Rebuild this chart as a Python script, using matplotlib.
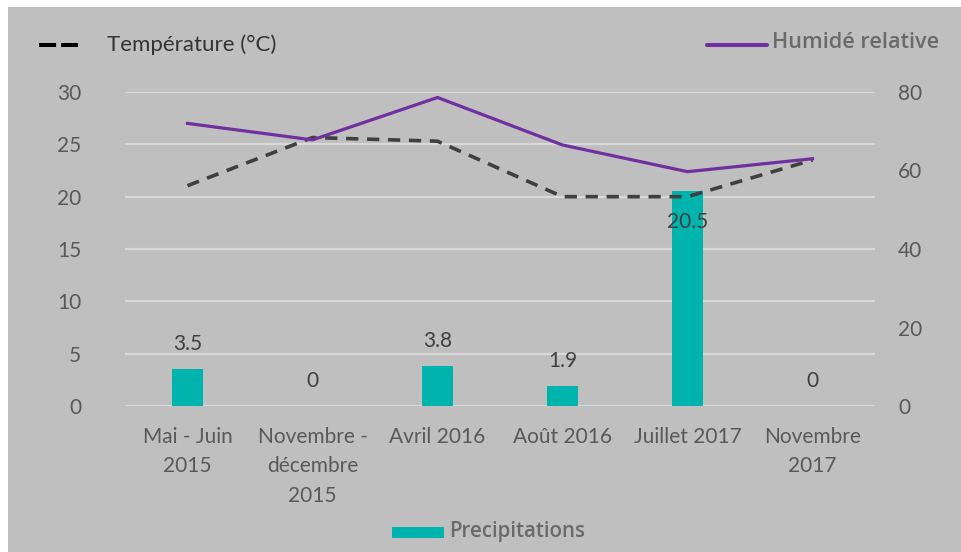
import matplotlib
matplotlib.use("Agg")
import matplotlib.pyplot as plt
from matplotlib.patches import Rectangle
from matplotlib.lines import Line2D

categories = ["Mai - Juin\n2015", "Novembre -\ndécembre\n2015", "Avril 2016",
              "Août 2016", "Juillet 2017", "Novembre\n2017"]
precipitations = [3.5, 0, 3.8, 1.9, 20.5, 0]
temperature = [21.05, 25.65, 25.3, 20.0, 20.0, 23.5]
humidite = [72.0, 67.8, 78.6, 66.5, 59.7, 63.0]
left_ticks = [0, 5, 10, 15, 20, 25, 30]
right_ticks = [0, 20, 40, 60, 80]

W, H = 961, 552
BG = "#bfbfbf"
GRID = "#d9d9d9"
TXT = "#595959"
TEAL = "#00b4ae"
PURPLE = "#7030a0"
DASH = "#404040"
FONT = ["Lato", "DejaVu Sans"]
LEG = ["Open Sans", "DejaVu Sans"]

plt.rcParams["font.family"] = FONT

fig = plt.figure(figsize=(W / 100, H / 100), dpi=100, facecolor="white")
bg = Rectangle((8 / W, 0), 1 - 8 / W, 1 - 7 / H, transform=fig.transFigure,
               facecolor=BG, edgecolor="none", zorder=-10)
fig.patches.append(bg)

ax = fig.add_axes([125 / W, 1 - 406 / H, 750 / W, 314 / H])
ax.set_facecolor("none")
x = list(range(len(categories)))

ax.set_xlim(-0.5, len(categories) - 0.5)
ax.set_ylim(0, 30)
ax.set_yticks(left_ticks)
for t in left_ticks:
    ax.axhline(t, color=GRID, lw=1.6, zorder=1)

bars = ax.bar(x, precipitations, width=0.25, color=TEAL, zorder=2)
for xi, v in zip(x, precipitations):
    off = -31 if v > 15 else 25
    ax.annotate(f"{v:g}", (xi, v), xytext=(0, off * 0.72), textcoords="offset points",
                ha="center", va="center", fontsize=15, color="#404040", zorder=5)

ax.plot(x, temperature, color=DASH, lw=2.6, dashes=(3.4, 2.4), zorder=4,
        solid_capstyle="butt", dash_capstyle="butt")

ax.set_xticks(x)
ax.set_xticklabels(categories, fontsize=15, color=TXT, linespacing=1.6)
ax.tick_params(axis="x", length=0, pad=15)
ax.tick_params(axis="y", length=0, pad=31.5, labelsize=15, labelcolor=TXT)
for s in ax.spines.values():
    s.set_visible(False)

ax2 = ax.twinx()
ax2.set_ylim(0, 80)
ax2.set_yticks(right_ticks)
ax2.plot(x, humidite, color=PURPLE, lw=2.3, zorder=4)
ax2.tick_params(axis="y", length=0, pad=16.5, labelsize=15, labelcolor=TXT)
for s in ax2.spines.values():
    s.set_visible(False)

# Legends
fig.lines.append(Line2D([39 / W, 78 / W], [1 - 45 / H, 1 - 45 / H], transform=fig.transFigure,
                        color="black", lw=2.9, dashes=(4.25, 1.25), dash_capstyle="butt"))
fig.text(107 / W, 1 - 45 / H, "Température (°C)", fontsize=16, color="#333333",
         ha="left", va="center")

fig.lines.append(Line2D([707 / W, 767 / W], [1 - 45 / H, 1 - 45 / H], transform=fig.transFigure,
                        color=PURPLE, lw=2.9, solid_capstyle="round"))
fig.text(772 / W, 1 - 43 / H, "Humidé relative", fontsize=15.6, color="#6a6a6a",
         ha="left", va="center", fontweight="semibold", family=LEG)

fig.patches.append(Rectangle((392 / W, 1 - 538 / H), 52 / W, 11 / H, transform=fig.transFigure,
                             facecolor=TEAL, edgecolor="none"))
fig.text(449 / W, 1 - 531.5 / H, "Precipitations", fontsize=14.8, color="#6a6a6a",
         ha="left", va="center", fontweight="semibold", family=LEG)

fig.savefig("out.png", dpi=100, facecolor=fig.get_facecolor())
